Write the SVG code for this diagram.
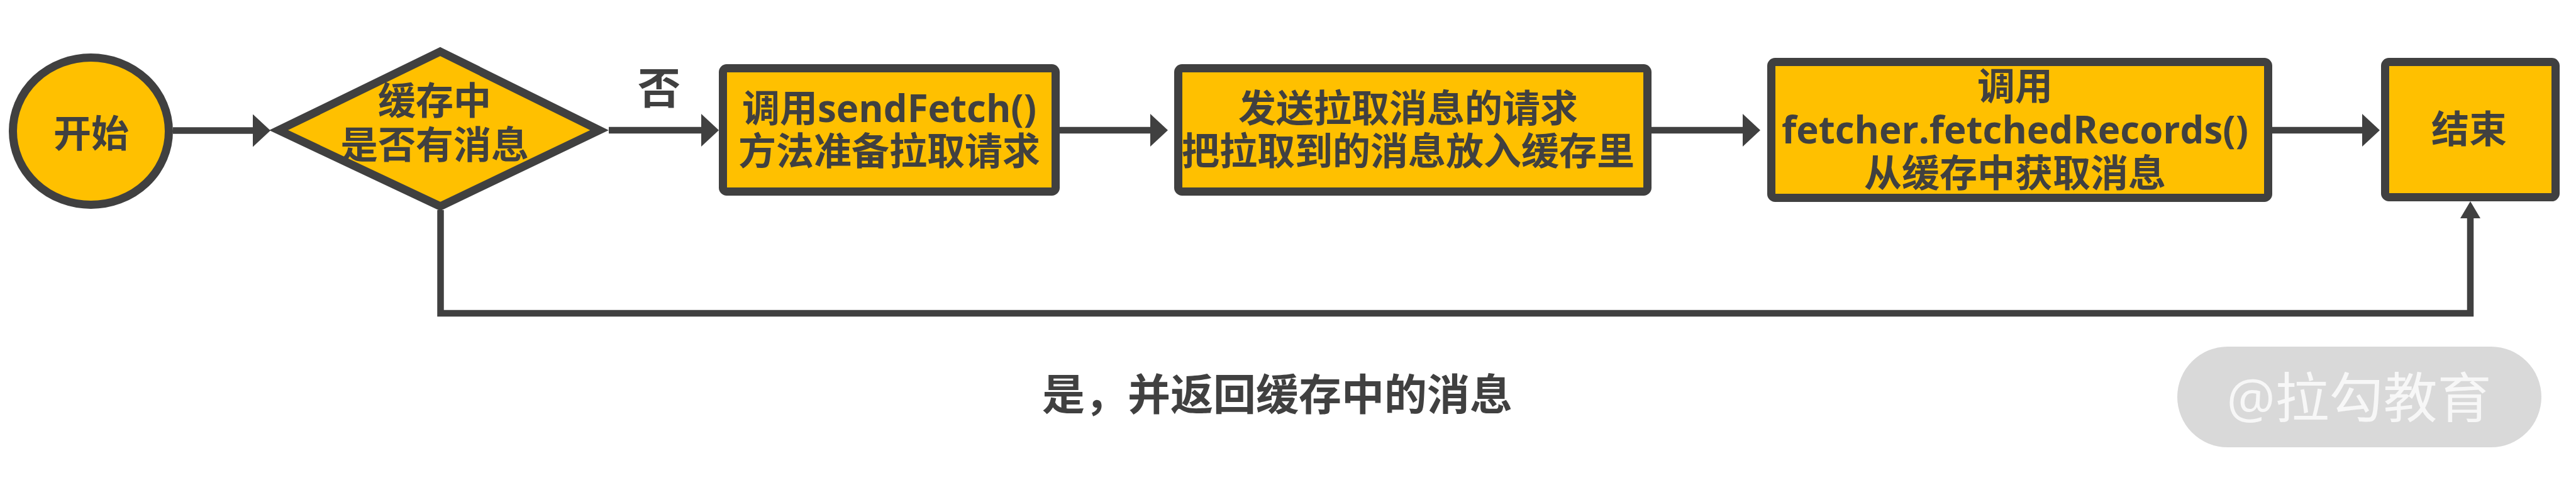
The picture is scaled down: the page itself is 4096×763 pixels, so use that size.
<svg xmlns="http://www.w3.org/2000/svg" width="4096" height="763" viewBox="0 0 4096 763">
<style>
  .shape { fill: #FFC000; stroke: #404040; stroke-width: 13; stroke-linejoin: miter; }
  .t { font-family: "Open Sans", "Noto Sans CJK SC", sans-serif; font-weight: bold; font-size: 60px; fill: #404040; text-anchor: middle; }
  .lbl { font-family: "Open Sans", "Noto Sans CJK SC", sans-serif; font-weight: bold; font-size: 68px; fill: #404040; text-anchor: middle; }
  .wire { fill: none; stroke: #404040; stroke-width: 10.5; stroke-linejoin: miter; }
  .wm { font-family: "Open Sans", "Noto Sans CJK SC", sans-serif; font-size: 86px; fill: #f7f7f7; text-anchor: middle; }
</style>
<defs>
  <marker id="ah" markerUnits="userSpaceOnUse" markerWidth="30" markerHeight="52" refX="1" refY="26" orient="auto">
    <path d="M0,0 L28,26 L0,52 Z" fill="#404040"/>
  </marker>
  <marker id="ahv" markerUnits="userSpaceOnUse" markerWidth="30" markerHeight="32" refX="1" refY="16" orient="auto">
    <path d="M0,0 L27,16 L0,32 Z" fill="#404040"/>
  </marker>
</defs>
<rect width="4096" height="763" fill="#ffffff"/>

<g id="connectors">
  <path class="wire" d="M275,207.5 H403" marker-end="url(#ah)"/>
  <path class="wire" d="M968,207 H1116" marker-end="url(#ah)"/>
  <path class="wire" d="M1685,207 H1830" marker-end="url(#ah)"/>
  <path class="wire" d="M2626,207 H2772" marker-end="url(#ah)"/>
  <path class="wire" d="M3613,207 H3757" marker-end="url(#ah)"/>
  <path class="wire" d="M700.5,334 V498 H3928 V346" marker-end="url(#ahv)"/>
  <text class="lbl" x="1048" y="165">否</text>
  <text class="lbl" x="2031" y="652">是，并返回缓存中的消息</text>
</g>

<g id="start">
  <ellipse class="shape" cx="144.5" cy="208.5" rx="124" ry="117"/>
  <text class="t" x="145" y="234">开始</text>
</g>

<g id="decision">
  <polygon class="shape" points="700,82 953,207 700,328 443,207"/>
  <text class="t"><tspan x="691" y="182">缓存中</tspan><tspan x="691" y="252">是否有消息</tspan></text>
</g>

<g id="sendfetch">
  <rect class="shape" x="1149.5" y="108.5" width="529" height="196" rx="6"/>
  <text class="t"><tspan x="1414" y="194">调用sendFetch()</tspan><tspan x="1414" y="262">方法准备拉取请求</tspan></text>
</g>

<g id="send">
  <rect class="shape" x="1873.5" y="108.5" width="746" height="196" rx="6"/>
  <text class="t"><tspan x="2239" y="194">发送拉取消息的请求</tspan><tspan x="2239" y="262">把拉取到的消息放入缓存里</tspan></text>
</g>

<g id="fetched">
  <rect class="shape" x="2816.5" y="98.5" width="790" height="216" rx="6"/>
  <text class="t"><tspan x="3204" y="159">调用</tspan><tspan x="3204" y="228">fetcher.fetchedRecords()</tspan><tspan x="3204" y="297">从缓存中获取消息</tspan></text>
</g>

<g id="end">
  <rect class="shape" x="3792.5" y="98.5" width="271" height="215" rx="6"/>
  <text class="t" x="3926" y="227">结束</text>
</g>

<g id="watermark">
  <rect x="3462" y="551" width="579" height="160" rx="80" fill="#d9d9d9"/>
  <text class="wm" x="3751" y="664">@拉勾教育</text>
</g>
</svg>
